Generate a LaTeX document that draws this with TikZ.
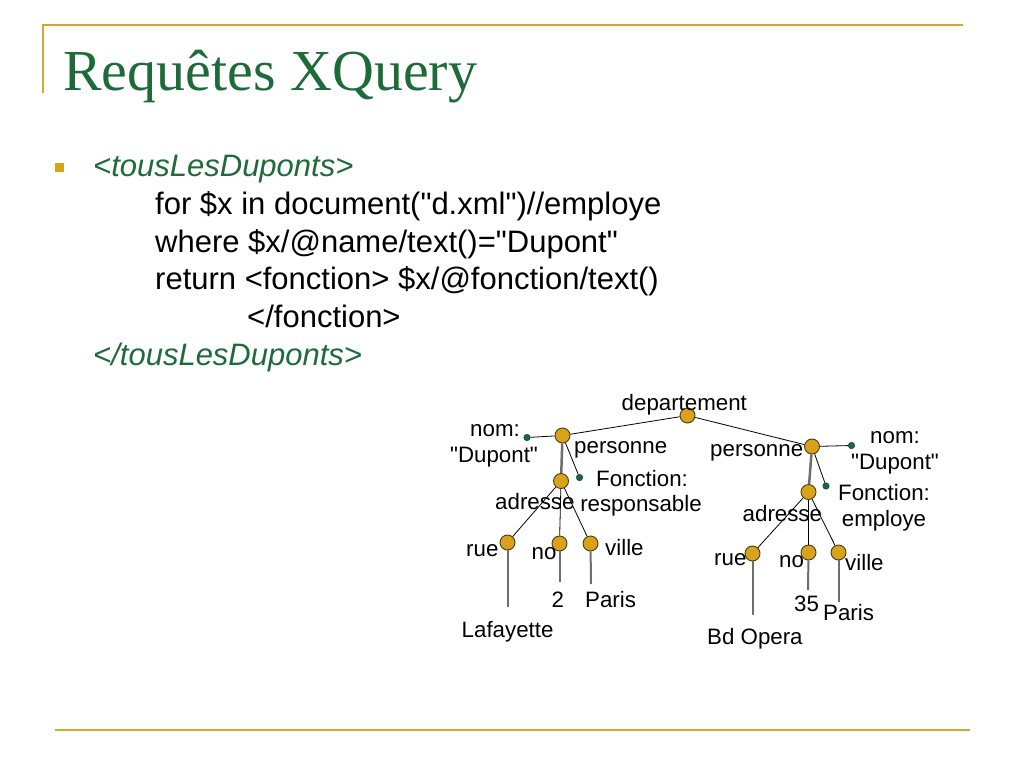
\documentclass[tikz,border=0pt]{standalone}
\usepackage{fontspec}
\setmainfont{Liberation Serif}
\setsansfont{Liberation Sans}[Ligatures=TeXOff]
\usepackage{xcolor}
\usepackage{tikz}
\usetikzlibrary{calc}

\definecolor{titlegreen}{HTML}{1E6B3A}
\definecolor{rulegold}{HTML}{D4A82C}
\definecolor{nodegold}{HTML}{D8A31A}
\definecolor{nodeline}{HTML}{4A3A10}
\definecolor{dotgreen}{HTML}{1C6646}
\definecolor{leafgray}{HTML}{6E6E6E}

\newcommand{\bodyfont}{\sffamily\fontsize{31}{37}\selectfont}
\newcommand{\treefont}{\sffamily\fontsize{22.3}{26}\selectfont}

\tikzset{
  elem/.style={circle, draw=nodeline, line width=0.9pt, fill=nodegold, minimum size=15pt, inner sep=0pt},
  attr/.style={circle, draw=dotgreen!70!black, line width=0.5pt, fill=dotgreen, minimum size=6.5pt, inner sep=0pt},
  lbl/.style={font=\treefont, inner sep=0pt, anchor=base west},
  lblc/.style={font=\treefont, inner sep=0pt, anchor=base},
  code/.style={font=\bodyfont, inner sep=0pt, anchor=base west},
  tag/.style={font=\bodyfont\itshape, text=titlegreen, inner sep=0pt, anchor=base west},
  branch/.style={line width=0.8pt, black},
  stem/.style={line width=2pt, leafgray}
}

\begin{document}
\begin{tikzpicture}[x=1pt,y=-1pt]
            \useasboundingbox (0,0) rectangle (1024,768);
            
            % Slide frame
            \draw [rulegold, line width=2pt] (42,25) -- (963,25);%
            \draw [rulegold, line width=2pt] (43,24) -- (43,93);%
            \draw [rulegold, line width=2pt] (55,730) -- (970,730);%
            \node [inner sep=0pt, anchor=base west, text=titlegreen, font=\fontsize{58}{64}\selectfont] (title) at (63,90) {Requêtes XQuery};%
            
            % Query text
            \fill [nodegold] (55,163) rectangle (64,172);%
            \node [tag] (open) at (93,176) {<tousLesDuponts>};%
            \node [code] (for) at (155,214) {for \$x in document("d.xml")//employe};%
            \node [code] (where) at (155,252) {where \$x/@name/text()="Dupont"};%
            \node [code] (return) at (155,289) {return <fonction> \$x/@fonction/text()};%
            \node [code] (endfct) at (247,327) {</fonction>};%
            \node [tag] (close) at (93,365) {</tousLesDuponts>};%
            
            % Tree: element nodes
            \node [elem] (dep) at (687.5,415.5) {};%
            \node [elem] (persL) at (562.5,435.5) {};%
            \node [elem] (adrL) at (561,481) {};%
            \node [elem] (rueL) at (507.5,542.5) {};%
            \node [elem] (noL) at (559.5,543.5) {};%
            \node [elem] (villeL) at (590.5,543.5) {};%
            \node [elem] (persR) at (812,446.5) {};%
            \node [elem] (adrR) at (808.5,492) {};%
            \node [elem] (rueR) at (752.5,553.5) {};%
            \node [elem] (noR) at (808.5,552.5) {};%
            \node [elem] (villeR) at (838.5,552.5) {};%
            
            % Tree: attribute nodes
            \node [attr] (nomL) at (527,437.5) {};%
            \node [attr] (fctL) at (579.5,477.5) {};%
            \node [attr] (nomR) at (851.5,445.5) {};%
            \node [attr] (fctR) at (826,486) {};%
            
            % Ends of the text stems
            \coordinate (rueLend) at (507.5,607);%
            \coordinate (noLend) at (559.5,582);%
            \coordinate (villeLend) at (591,584);%
            \coordinate (rueRend) at (752.5,615);%
            \coordinate (noRend) at (808,590);%
            \coordinate (villeRend) at (838.5,602);%
            
            % Drawing the branches
            \draw [branch] (dep) -- (persL);%
            \draw [branch] (dep) -- (persR);%
            \draw [branch] (persL) -- (nomL);%
            \draw [branch] (persL) -- (fctL);%
            \draw [stem, line width=2.5pt] (persL) -- (adrL);%
            \draw [branch] (adrL) -- (rueL);%
            \draw [branch] (adrL) -- (noL);%
            \draw [branch] (adrL) -- (villeL);%
            \draw [branch] (persR) -- (nomR);%
            \draw [branch] (persR) -- (fctR);%
            \draw [stem, line width=2.5pt] (persR) -- (adrR);%
            \draw [branch] (adrR) -- (rueR);%
            \draw [branch] (adrR) -- (noR);%
            \draw [branch] (adrR) -- (villeR);%
            \draw [stem] (rueL) -- (rueLend);%
            \draw [stem] (noL) -- (noLend);%
            \draw [stem] (villeL) -- (villeLend);%
            \draw [stem] (rueR) -- (rueRend);%
            \draw [stem] (noR) -- (noRend);%
            \draw [stem] (villeR) -- (villeRend);%
            
            % Labels, left part
            \node [lbl] (depl) at (621.5,410) {departement};%
            \node [lbl] (persLl) at (574,453) {personne};%
            \node [lblc] (nomLl) at (495,436) {nom:};%
            \node [lblc] (nomLv) at (494,462) {"Dupont"};%
            \node [lblc] (fctLl) at (642,486) {Fonction:};%
            \node [lblc] (fctLv) at (641,511) {responsable};%
            \node [lbl] (adrLl) at (495,509) {adresse};%
            \node [lbl] (rueLl) at (466,556) {rue};%
            \node [lbl] (noLl) at (531.5,559) {no};%
            \node [lbl] (villeLl) at (605,555) {ville};%
            \node [lbl] (noLv) at (551.5,607) {2};%
            \node [lbl] (villeLv) at (585,607) {Paris};%
            \node [lbl] (rueLv) at (461.5,637) {Lafayette};%
            
            % Labels, right part
            \node [lbl] (persRl) at (710,456.5) {personne};%
            \node [lblc] (nomRl) at (895,443) {nom:};%
            \node [lblc] (nomRv) at (895,469) {"Dupont"};%
            \node [lblc] (fctRl) at (884,500) {Fonction:};%
            \node [lblc] (fctRv) at (884,526) {employe};%
            \node [lbl] (adrRl) at (742.5,521.5) {adresse};%
            \node [lbl] (rueRl) at (714,565) {rue};%
            \node [lbl] (noRl) at (779,567) {no};%
            \node [lbl] (villeRl) at (845,570) {ville};%
            \node [lbl] (noRv) at (794,611.5) {35};%
            \node [lbl] (villeRv) at (823,620) {Paris};%
            \node [lbl] (rueRv) at (707,644) {Bd Opera};%
        \end{tikzpicture}
\end{document}
